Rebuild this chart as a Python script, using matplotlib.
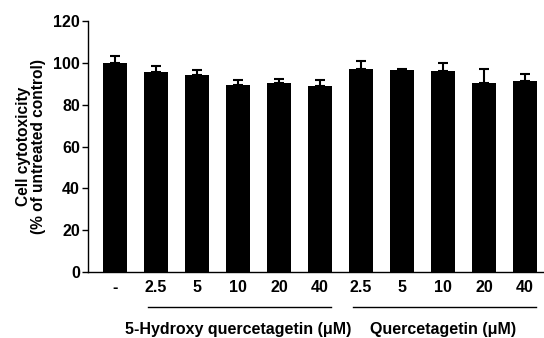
import numpy as np
import matplotlib
matplotlib.use("Agg")
import matplotlib.pyplot as plt
import matplotlib.transforms as mtransforms

plt.rcParams['font.family'] = ['Liberation Sans', 'DejaVu Sans']
plt.rcParams['font.weight'] = 'bold'

tick_labels = ['-', '2.5', '5', '10', '20', '40', '2.5', '5', '10', '20', '40']
values = [100, 95.5, 94, 89.5, 90.4, 89, 97, 96.8, 96, 90.4, 91.5]
errors = [3.2, 3, 2.5, 2.2, 2, 2.6, 3.8, 0.4, 3.8, 6.6, 3.2]
groups = ['5-Hydroxy quercetagetin (\u03bcM)', 'Quercetagetin (\u03bcM)']
group_span = [(1, 5), (6, 10)]

fig = plt.figure(figsize=(5.44, 3.38), dpi=100)
ax = fig.add_axes([0.162, 0.195, 0.836, 0.743])

x = np.arange(len(values))
ax.bar(x, values, width=0.585, color='black', zorder=2)
ax.errorbar(x, values, yerr=[np.zeros(len(errors)), errors], fmt='none',
            ecolor='black', elinewidth=1.5, capsize=3.5, capthick=1.5, zorder=1)

ax.set_xlim(-0.66, 10.44)
ax.set_ylim(0, 120)
ax.set_yticks(range(0, 121, 20))
ax.set_xticks(x)
ax.set_xticklabels(tick_labels)
ax.tick_params(axis='x', length=0, pad=6, labelsize=11.5)
ax.tick_params(axis='y', length=4, width=1, direction='out', labelsize=11.5, pad=2)
for lab in ax.get_xticklabels() + ax.get_yticklabels():
    lab.set_fontweight('bold')
for s in ['top', 'right']:
    ax.spines[s].set_visible(False)
for s in ['left', 'bottom']:
    ax.spines[s].set_linewidth(1)

ax.set_ylabel('Cell cytotoxicity\n(% of untreated control)', fontsize=11.2,
              fontweight='bold', labelpad=5, linespacing=1.05)

trans = mtransforms.blended_transform_factory(ax.transData, ax.transAxes)
for name, (a, b) in zip(groups, group_span):
    ax.plot([a - 0.2, b + 0.28], [-0.139, -0.139], color='black', lw=1,
            transform=trans, clip_on=False)
    ax.text((a + b) / 2, -0.228, name, transform=trans, ha='center',
            va='center', fontsize=11.5, fontweight='bold')

fig.savefig('out.png', dpi=100)
